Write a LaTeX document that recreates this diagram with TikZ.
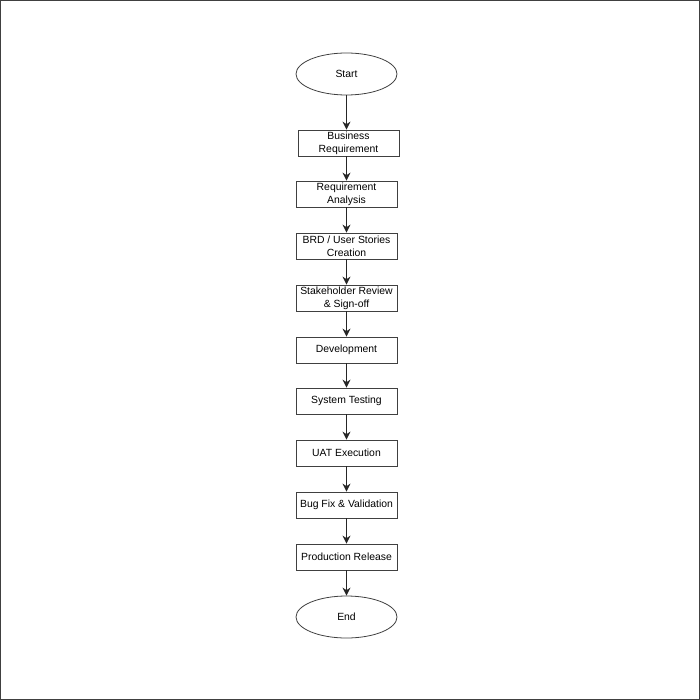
\documentclass[tikz,border=0pt]{standalone}
\usepackage{fontspec}
\setmainfont{Liberation Sans}
\usetikzlibrary{shapes.geometric,arrows.meta}
\begin{document}
\begin{tikzpicture}[x=1pt,y=-1pt,
  box/.style={draw=black!75,line width=0.8pt,minimum width=101pt,minimum height=26pt,inner sep=0pt,align=center,font=\fontsize{10.4}{13}\selectfont},
  term/.style={ellipse,draw=black!75,line width=0.8pt,minimum width=101pt,minimum height=42pt,inner sep=0pt,font=\fontsize{10.4}{13}\selectfont},
  arr/.style={-{Stealth[length=8pt,width=8pt]},line width=1pt,black!85}]
\useasboundingbox (0,0) rectangle (700,700);
\draw[black!75,line width=1.4pt] (0.7,0.7) rectangle (699.3,699.3);
\node[term] (start) at (346.5,74) {Start};
\node[box] (br) at (348.5,143) {Business\\Requirement};
\node[box] (ra) at (346.5,194) {Requirement\\Analysis};
\node[box] (brd) at (346.5,246) {BRD / User Stories\\Creation};
\node[box] (sr) at (346.5,298) {Stakeholder Review\\\& Sign-off};
\node[box] (dev) at (346.5,350) {Development};
\node[box] (st) at (346.5,401) {System Testing};
\node[box] (uat) at (346.5,453) {UAT Execution};
\node[box] (bf) at (346.5,505) {Bug Fix \& Validation};
\node[box] (pr) at (346.5,557) {Production Release};
\node[term] (end) at (346.5,617) {End};
\draw[arr] (start.south) -- (start.south |- br.north);
\draw[arr] (br.south -| ra.north) -- (ra.north);
\draw[arr] (ra) -- (brd);
\draw[arr] (brd) -- (sr);
\draw[arr] (sr) -- (dev);
\draw[arr] (dev) -- (st);
\draw[arr] (st) -- (uat);
\draw[arr] (uat) -- (bf);
\draw[arr] (bf) -- (pr);
\draw[arr] (pr) -- (end);
\end{tikzpicture}
\end{document}
